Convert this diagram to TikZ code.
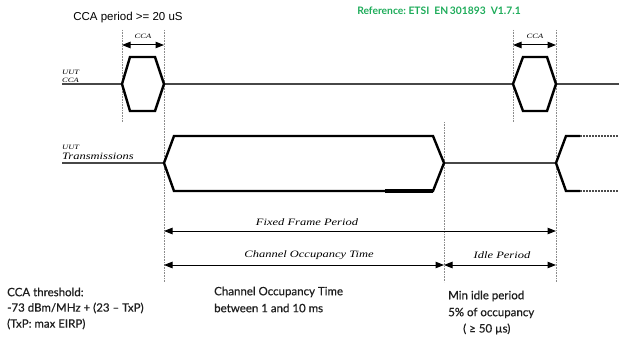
\documentclass[tikz,border=0pt]{standalone}
\usepackage{fontspec}
\setmainfont{Liberation Sans}
\newfontfamily\tms{Liberation Serif}
\newfontfamily\lato[BoldFont={Lato}, BoldFeatures={FakeBold=0.5}]{Lato}
\newfontfamily\latobold{Lato Bold}
\usetikzlibrary{arrows.meta}
\definecolor{refgreen}{RGB}{30,172,90}
\definecolor{txt}{RGB}{30,30,30}
\newcommand\sqz[1]{\scalebox{1}[0.78]{#1}}
\tikzset{
  sig/.style={line width=2.4pt, black, line join=miter},
  base/.style={line width=1.9pt, black!72},
  guide/.style={densely dotted, black!45, line width=0.6pt},
  dim/.style={{Triangle[length=8.5pt,width=6.5pt]}-{Triangle[length=8.5pt,width=6.5pt]}, line width=1pt, black},
  lab/.style={inner sep=0pt, font=\tms\itshape, text=black},
  note/.style={inner sep=0pt, anchor=west, font=\lato\bfseries\fontsize{11.5}{13}\selectfont, text=txt, align=left}
}
\begin{document}
\begin{tikzpicture}[x=1pt,y=-1pt]
\useasboundingbox (0,0) rectangle (619,337);
% coordinates
\coordinate (c1l) at (122,84); \coordinate (c1r) at (164,84);
\coordinate (c2l) at (513,84); \coordinate (c2r) at (556,84);
\coordinate (tl) at (164,163); \coordinate (tr) at (444,163);
\coordinate (t2) at (556,163);
% guides
\coordinate (g1a) at (122,30); \coordinate (g1b) at (122,122);
\coordinate (g2a) at (164,30); \coordinate (g2b) at (164,282);
\coordinate (g3a) at (444,122); \coordinate (g3b) at (444,282);
\coordinate (g4a) at (513,30); \coordinate (g4b) at (513,122);
\coordinate (g5a) at (556,30); \coordinate (g5b) at (556,282);
\draw[guide] (g1a) -- (g1b);
\draw[guide] (g2a) -- (g2b);
\draw[guide] (g3a) -- (g3b);
\draw[guide] (g4a) -- (g4b);
\draw[guide] (g5a) -- (g5b);
% CCA row
\coordinate (cs) at (62,84); \coordinate (ce) at (619,84);
\draw[base] (cs) -- (c1l);
\draw[base] (c1r) -- (c2l);
\draw[base] (c2r) -- (ce);
\draw[sig] (c1l) -- (130,57) -- (155,57) -- (c1r) -- (155,111) -- (130,111) -- cycle;
\draw[sig] (c2l) -- (523,57) -- (547,57) -- (c2r) -- (547,111) -- (523,111) -- cycle;
% CCA dimension arrows
\coordinate (a1l) at (122,45); \coordinate (a1r) at (164,45);
\coordinate (a2l) at (513,45); \coordinate (a2r) at (556,45);
\draw[dim] (a1l) -- (a1r);
\draw[dim] (a2l) -- (a2r);
\node[lab, font=\tms\itshape\fontsize{8.5}{9}\selectfont] (cca1) at (143,36) {\sqz{CCA}};
\node[lab, font=\tms\itshape\fontsize{8.5}{9}\selectfont] (cca2) at (535,36) {\sqz{CCA}};
% transmissions row
\coordinate (ts) at (62,163);
\draw[base] (ts) -- (tl);
\draw[base] (tr) -- (t2);
\draw[sig] (tl) -- (174,136) -- (433,136) -- (tr) -- (433,191) -- (174,191) -- cycle;
\draw[line width=3.4pt] (385,191) -- (433,191);
\draw[sig] (580,136) -- (566,136) -- (t2) -- (566,191) -- (580,191);
\draw[line width=2.2pt, black!70, dash pattern=on 2pt off 1pt] (580,136) -- (619,136);
\draw[line width=2.2pt, black!70, dash pattern=on 2pt off 1pt] (580,191) -- (619,191);
% row labels
\node[lab, anchor=west, font=\tms\itshape\fontsize{8.5}{9}\selectfont] (u1) at (62,72) {\sqz{UUT}};
\node[lab, anchor=west, font=\tms\itshape\fontsize{8.5}{9}\selectfont] (u2) at (62,80) {\sqz{CCA}};
\node[lab, anchor=west, font=\tms\itshape\fontsize{8.5}{9}\selectfont] (u3) at (62,147) {\sqz{UUT}};
\node[lab, anchor=west, font=\tms\itshape\fontsize{12.5}{13}\selectfont] (u4) at (62,156) {\sqz{Transmissions}};
% bottom dimension arrows
\coordinate (f1) at (164,231); \coordinate (f2) at (556,231);
\coordinate (o1) at (164,265); \coordinate (o2) at (444,265); \coordinate (o3) at (556,265);
\draw[dim] (f1) -- (f2);
\draw[dim] (o1) -- (o2);
\draw[dim] (o2) -- (o3);
\node[lab, font=\tms\itshape\fontsize{12.5}{13}\selectfont] (ffp) at (307,222) {\sqz{Fixed Frame Period}};
\node[lab, font=\tms\itshape\fontsize{12.5}{13}\selectfont] (cot) at (309,255) {\sqz{Channel Occupancy Time}};
\node[lab, font=\tms\itshape\fontsize{12.5}{13}\selectfont] (idle) at (502,255) {\sqz{Idle Period}};
% titles
\node[inner sep=0pt, font=\fontsize{11.5}{13}\selectfont, text=black] (per) at (128,18) {CCA period >= 20 uS};
\node[inner sep=0pt, font=\latobold\fontsize{10.3}{12}\selectfont, text=refgreen] (ref) at (439,11) {Reference:\ ETSI\ \ EN\,301893\ \ V1.7.1};
% notes
\node[note] (n1) at (7,292) {CCA threshold:};
\node[note] (n2) at (7,308) {-73 dBm/MHz + (23 – TxP)};
\node[note] (n3) at (7,324) {(TxP: max EIRP)};
\node[note] (n4) at (214,292) {Channel Occupancy Time};
\node[note] (n5) at (214,308) {between 1 and 10 ms};
\node[note] (n6) at (448,296) {Min idle period};
\node[note] (n7) at (448,313) {5\% of occupancy};
\node[note] (n8) at (463,329) {( ≥ 50 µs)};
\end{tikzpicture}
\end{document}
